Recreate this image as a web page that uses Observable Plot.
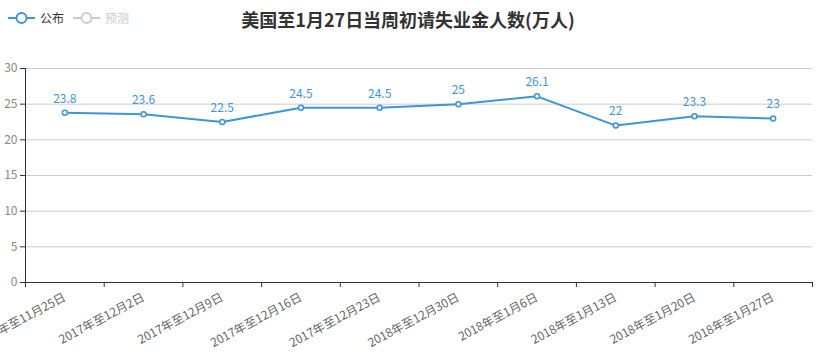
<!DOCTYPE html>
<html>
<head>
<meta charset="utf-8">
<script src="https://cdn.jsdelivr.net/npm/d3@7"></script>
<script src="https://cdn.jsdelivr.net/npm/@observablehq/plot@0.6"></script>
<style>
  body { margin: 0; background: #fff; font-family: "Noto Sans CJK SC", "Microsoft YaHei", sans-serif; }
  #wrap { position: relative; width: 823px; height: 353px; overflow: hidden; }
  #title { position: absolute; left: 0; width: 816px; top: 6px; text-align: center; font-size: 18px; font-weight: bold; color: #333; }
  .leg { position: absolute; top: 9px; font-size: 12px; display: flex; align-items: center; }
  .leg svg { margin-right: 5px; }
</style>
</head>
<body>
<div id="wrap">
  <div id="chart"></div>
  <div id="title">美国至1月27日当周初请失业金人数(万人)</div>
  <div class="leg" style="left:8px;color:#333"><svg width="27" height="14"><line x1="0" x2="27" y1="7" y2="7" stroke="#3a96dd" stroke-width="2"/><circle cx="13.5" cy="7" r="5" fill="#fff" stroke="#3a96dd" stroke-width="2"/></svg>公布</div>
  <div class="leg" style="left:73px;color:#ccc"><svg width="27" height="14"><line x1="0" x2="27" y1="7" y2="7" stroke="#ccc" stroke-width="2"/><circle cx="13.5" cy="7" r="5" fill="#fff" stroke="#ccc" stroke-width="2"/></svg>预测</div>
</div>
<script>
const categories = ["2017年至11月25日", "2017年至12月2日", "2017年至12月9日", "2017年至12月16日", "2017年至12月23日", "2018年至12月30日", "2018年至1月6日", "2018年至1月13日", "2018年至1月20日", "2018年至1月27日"];
const published = [23.8, 23.6, 22.5, 24.5, 24.5, 25, 26.1, 22, 23.3, 23];
const yTicks = [0, 5, 10, 15, 20, 25, 30];

const data = categories.map((c, i) => ({i, c, v: published[i]}));
const boundaries = d3.range(categories.length + 1).map(i => i - 0.5);
const blue = "#3a96dd";

const chart = Plot.plot({
  width: 823,
  height: 353,
  marginLeft: 25,
  marginRight: 11,
  marginTop: 68,
  marginBottom: 71,
  style: {fontFamily: "'Noto Sans CJK SC', sans-serif", fontSize: "12px", background: "#fff"},
  x: {type: "linear", domain: [-0.5, categories.length - 0.5]},
  y: {domain: [0, 30]},
  marks: [
    Plot.gridY(yTicks, {stroke: "#ccc", strokeOpacity: 1}),
    Plot.axisY({ticks: yTicks, tickSize: 5, stroke: "#333", color: "#888", tickPadding: 3, label: null, fontSize: 12}),
    Plot.ruleX([-0.5], {stroke: "#333"}),
    Plot.ruleY([0], {stroke: "#333"}),
    Plot.axisX({ticks: boundaries, tickSize: 5, tickFormat: () => "", stroke: "#333", label: null}),
    Plot.axisX({ticks: d3.range(categories.length), tickSize: 0, tickFormat: i => categories[i], tickRotate: -28, tickPadding: 14, color: "#666", label: null, fontSize: 12}),
    Plot.line(data, {x: "i", y: "v", stroke: blue, strokeWidth: 2}),
    Plot.dot(data, {x: "i", y: "v", r: 2.5, fill: "#fff", stroke: blue, strokeWidth: 1.5}),
    Plot.text(data, {x: "i", y: "v", text: d => String(d.v), dy: -14, fill: blue, fontSize: 12})
  ]
});
document.getElementById("chart").appendChild(chart);
</script>
</body>
</html>
